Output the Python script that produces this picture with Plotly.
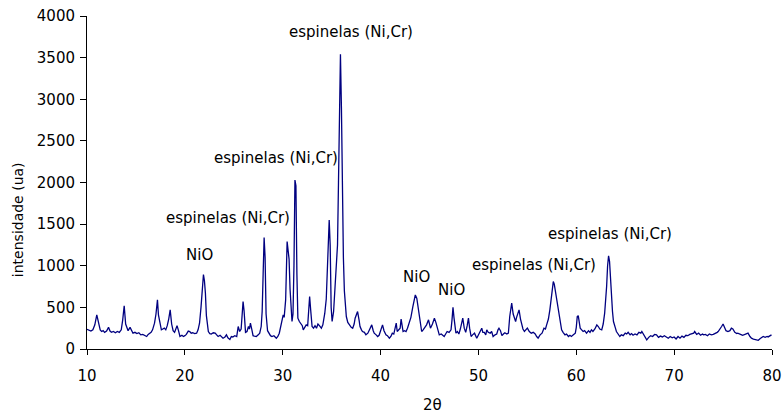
import plotly.graph_objects as go

# XRD pattern: diffraction angle (2-theta, degrees) and measured intensity (a.u.)
two_theta = [
    10.0, 10.2, 10.4, 10.6, 10.8, 11.0, 11.2, 11.35, 11.5, 11.65, 11.8, 12.0, 12.2, 12.35, 12.5,
    12.7, 12.9, 13.1, 13.3, 13.5, 13.65, 13.8, 13.95, 14.05, 14.2, 14.4, 14.55, 14.7, 14.9, 15.1,
    15.3, 15.5, 15.7, 15.9, 16.1, 16.25, 16.4, 16.55, 16.7, 16.9, 17.05, 17.2, 17.3, 17.45, 17.6,
    17.75, 17.9, 18.05, 18.2, 18.35, 18.5, 18.65, 18.8, 18.95, 19.1, 19.2, 19.35, 19.5, 19.7, 19.85,
    20.0, 20.15, 20.35, 20.5, 20.65, 20.8, 21.0, 21.2, 21.35, 21.5, 21.65, 21.8, 21.9, 22.0, 22.1,
    22.2, 22.3, 22.4, 22.55, 22.7, 22.9, 23.1, 23.25, 23.4, 23.6, 23.75, 23.9, 24.1, 24.25, 24.4,
    24.6, 24.75, 24.9, 25.1, 25.3, 25.45, 25.6, 25.75, 25.85, 25.95, 26.05, 26.2, 26.35, 26.5, 26.6,
    26.7, 26.85, 26.97, 27.1, 27.3, 27.5, 27.65, 27.8, 27.9, 28.0, 28.1, 28.2, 28.3, 28.45, 28.6,
    28.75, 28.9, 29.1, 29.35, 29.5, 29.65, 29.8, 29.93, 30.05, 30.15, 30.3, 30.45, 30.55, 30.65, 30.75,
    30.85, 30.95, 31.05, 31.15, 31.25, 31.35, 31.45, 31.55, 31.7, 31.85, 32.0, 32.1, 32.25, 32.4, 32.55,
    32.65, 32.75, 32.85, 33.0, 33.15, 33.3, 33.45, 33.6, 33.75, 33.95, 34.1, 34.3, 34.45, 34.55, 34.65,
    34.75, 34.85, 34.95, 35.05, 35.2, 35.35, 35.5, 35.6, 35.7, 35.8, 35.9, 36.0, 36.1, 36.2, 36.3,
    36.4, 36.5, 36.65, 36.8, 37.0, 37.15, 37.3, 37.4, 37.55, 37.65, 37.8, 37.9, 38.05, 38.15, 38.35,
    38.5, 38.7, 38.85, 39.0, 39.1, 39.25, 39.35, 39.55, 39.7, 39.85, 40.0, 40.2, 40.35, 40.55, 40.7,
    40.9, 41.05, 41.2, 41.35, 41.5, 41.6, 41.7, 41.85, 42.0, 42.1, 42.2, 42.3, 42.45, 42.6, 42.75,
    42.9, 43.1, 43.3, 43.45, 43.55, 43.7, 43.85, 43.95, 44.1, 44.2, 44.35, 44.55, 44.7, 44.9, 45.0,
    45.1, 45.3, 45.5, 45.65, 45.75, 45.9, 46.0, 46.2, 46.35, 46.5, 46.65, 46.8, 47.0, 47.2, 47.3,
    47.4, 47.5, 47.7, 47.85, 48.0, 48.15, 48.3, 48.4, 48.55, 48.7, 48.85, 48.98, 49.1, 49.25, 49.4,
    49.6, 49.83, 50.0, 50.17, 50.34, 50.45, 50.6, 50.75, 50.85, 51.0, 51.2, 51.35, 51.5, 51.7, 51.87,
    52.0, 52.1, 52.25, 52.4, 52.55, 52.7, 52.9, 53.06, 53.2, 53.3, 53.4, 53.55, 53.7, 53.8, 53.9,
    54.05, 54.15, 54.3, 54.4, 54.55, 54.7, 54.85, 55.0, 55.2, 55.4, 55.6, 55.8, 55.95, 56.1, 56.3,
    56.5, 56.7, 56.85, 56.97, 57.15, 57.3, 57.45, 57.55, 57.65, 57.75, 57.9, 58.05, 58.15, 58.3, 58.5,
    58.65, 58.85, 59.0, 59.2, 59.35, 59.5, 59.7, 59.9, 60.0, 60.1, 60.2, 60.3, 60.4, 60.55, 60.7,
    60.85, 61.05, 61.25, 61.4, 61.55, 61.7, 61.9, 62.1, 62.25, 62.4, 62.6, 62.75, 62.9, 63.0, 63.1,
    63.2, 63.3, 63.4, 63.5, 63.6, 63.7, 63.8, 63.9, 64.0, 64.1, 64.3, 64.45, 64.6, 64.8, 65.0,
    65.15, 65.3, 65.5, 65.65, 65.8, 66.0, 66.2, 66.4, 66.6, 66.7, 66.85, 67.0, 67.2, 67.4, 67.6,
    67.8, 68.0, 68.2, 68.4, 68.6, 68.8, 69.0, 69.2, 69.4, 69.6, 69.8, 70.0, 70.2, 70.4, 70.6,
    70.8, 71.0, 71.2, 71.4, 71.6, 71.8, 72.0, 72.1, 72.3, 72.5, 72.7, 72.9, 73.0, 73.2, 73.4,
    73.6, 73.8, 74.0, 74.2, 74.4, 74.5, 74.7, 74.85, 75.0, 75.15, 75.3, 75.5, 75.7, 75.85, 76.0,
    76.2, 76.4, 76.5, 76.7, 76.9, 77.0, 77.2, 77.4, 77.55, 77.75, 77.9, 78.1, 78.3, 78.45, 78.6,
    78.8, 79.0, 79.1, 79.3, 79.5, 79.6, 79.8, 79.95,
]

intensity = [
    236, 225, 215, 230, 290, 410, 290, 230, 210, 220, 200, 215, 260, 215, 200,
    210, 195, 210, 200, 230, 350, 520, 300, 270, 220, 260, 215, 190, 200, 185,
    195, 170, 175, 160, 150, 175, 185, 200, 230, 310, 420, 590, 410, 290, 230,
    240, 250, 230, 280, 360, 470, 300, 220, 200, 240, 280, 220, 150, 165, 150,
    160, 175, 215, 210, 190, 195, 185, 190, 230, 310, 500, 780, 895, 820, 670,
    400, 260, 210, 185, 180, 195, 190, 170, 150, 165, 150, 130, 145, 170, 135,
    115, 150, 145, 160, 150, 270, 210, 240, 400, 570, 460, 200, 210, 270, 240,
    310, 230, 160, 155, 150, 170, 190, 270, 450, 900, 1340, 1100, 420, 220, 190,
    160, 150, 160, 130, 150, 190, 260, 350, 410, 380, 590, 1290, 1180, 1080, 720,
    420, 330, 420, 1000, 2030, 1960, 900, 370, 330, 300, 280, 230, 260, 290, 280,
    450, 630, 480, 270, 250, 280, 250, 300, 280, 250, 290, 430, 600, 1000, 1450,
    1550, 1250, 500, 330, 450, 750, 1000, 1250, 2000, 3000, 3540, 2900, 1600, 1100, 700,
    500, 390, 320, 290, 260, 250, 300, 370, 420, 450, 350, 270, 230, 210, 200,
    170, 190, 230, 260, 290, 220, 190, 170, 150, 165, 210, 290, 220, 170, 160,
    130, 150, 190, 180, 250, 310, 210, 230, 250, 360, 300, 210, 220, 210, 250,
    310, 380, 510, 600, 650, 610, 470, 390, 280, 210, 230, 270, 290, 350, 280,
    250, 300, 370, 320, 270, 200, 170, 180, 160, 150, 180, 210, 200, 230, 350,
    500, 380, 190, 210, 180, 240, 340, 370, 250, 200, 280, 370, 250, 150, 170,
    190, 130, 170, 190, 250, 200, 200, 170, 230, 200, 190, 210, 150, 170, 180,
    230, 250, 220, 160, 180, 195, 180, 190, 390, 480, 550, 420, 350, 330, 380,
    450, 470, 360, 310, 240, 210, 230, 250, 210, 190, 200, 180, 150, 130, 170,
    190, 250, 240, 290, 360, 470, 620, 750, 810, 780, 670, 560, 470, 330, 230,
    200, 170, 180, 150, 165, 150, 170, 190, 260, 390, 400, 300, 250, 230, 210,
    220, 190, 220, 200, 230, 210, 240, 290, 270, 240, 230, 300, 430, 560, 750,
    1000, 1120, 1050, 800, 670, 450, 330, 300, 250, 210, 180, 150, 170, 160, 190,
    180, 200, 170, 185, 165, 180, 170, 200, 190, 210, 180, 150, 110, 140, 160,
    150, 175, 170, 140, 155, 145, 160, 145, 130, 150, 135, 145, 120, 150, 130,
    155, 140, 165, 160, 175, 180, 190, 210, 175, 190, 165, 180, 170, 175, 160,
    180, 170, 175, 185, 200, 210, 240, 270, 300, 260, 220, 210, 220, 250, 240,
    200, 185, 190, 175, 170, 165, 175, 190, 190, 150, 130, 120, 115, 110, 105,
    125, 140, 150, 140, 150, 145, 160, 170,
]

# Phase labels placed above their reflections (2-theta, intensity)
label_text = [
    "espinelas (Ni,Cr)", "espinelas (Ni,Cr)", "espinelas (Ni,Cr)", "NiO",
    "NiO", "NiO", "espinelas (Ni,Cr)", "espinelas (Ni,Cr)",
]
label_x = [36.98, 29.31, 24.41, 21.45, 43.62, 47.2, 55.68, 63.44]
label_y = [3808, 2294, 1574, 1129, 865, 709, 1009, 1381]

x_ticks = [10, 20, 30, 40, 50, 60, 70, 80]
y_ticks = [0, 500, 1000, 1500, 2000, 2500, 3000, 3500, 4000]

FONT = "DejaVu Sans"

fig = go.Figure()
fig.add_trace(go.Scatter(
    x=two_theta, y=intensity, mode="lines",
    line=dict(color="#000080", width=1.3),
    showlegend=False, hoverinfo="x+y",
))

for txt, lx, ly in zip(label_text, label_x, label_y):
    fig.add_annotation(
        x=lx, y=ly, xref="x", yref="y", text=txt, showarrow=False,
        xanchor="center", yanchor="middle",
        font=dict(family=FONT, size=15, color="black"),
    )

# Axis titles
fig.add_annotation(
    x=0.504, y=-0.168, xref="paper", yref="paper", text="2θ", showarrow=False,
    xanchor="center", yanchor="middle",
    font=dict(family=FONT, size=15, color="black"),
)
fig.add_annotation(
    x=-0.1007, y=0.387, xref="paper", yref="paper", text="intensidade (ua)",
    showarrow=False, textangle=-90, xanchor="center", yanchor="middle",
    font=dict(family=FONT, size=14, color="black"),
)

fig.update_layout(
    width=784, height=414,
    margin=dict(l=87, r=12, t=16, b=65, autoexpand=False),
    paper_bgcolor="white", plot_bgcolor="white",
    font=dict(family=FONT, size=15, color="black"),
    xaxis=dict(
        range=[10, 80], tickvals=x_ticks, ticktext=[str(v) for v in x_ticks],
        showgrid=False, zeroline=False, showline=True, linecolor="black",
        linewidth=1, ticks="outside", ticklen=5, tickcolor="black",
        ticklabelstandoff=8, fixedrange=True, automargin=False,
    ),
    yaxis=dict(
        range=[0, 4000], tickvals=y_ticks, ticktext=[str(v) for v in y_ticks],
        showgrid=False, zeroline=False, showline=True, linecolor="black",
        linewidth=1, ticks="outside", ticklen=6, tickcolor="black",
        ticklabelstandoff=2, fixedrange=True, automargin=False,
    ),
)

fig.write_html("out.html")
